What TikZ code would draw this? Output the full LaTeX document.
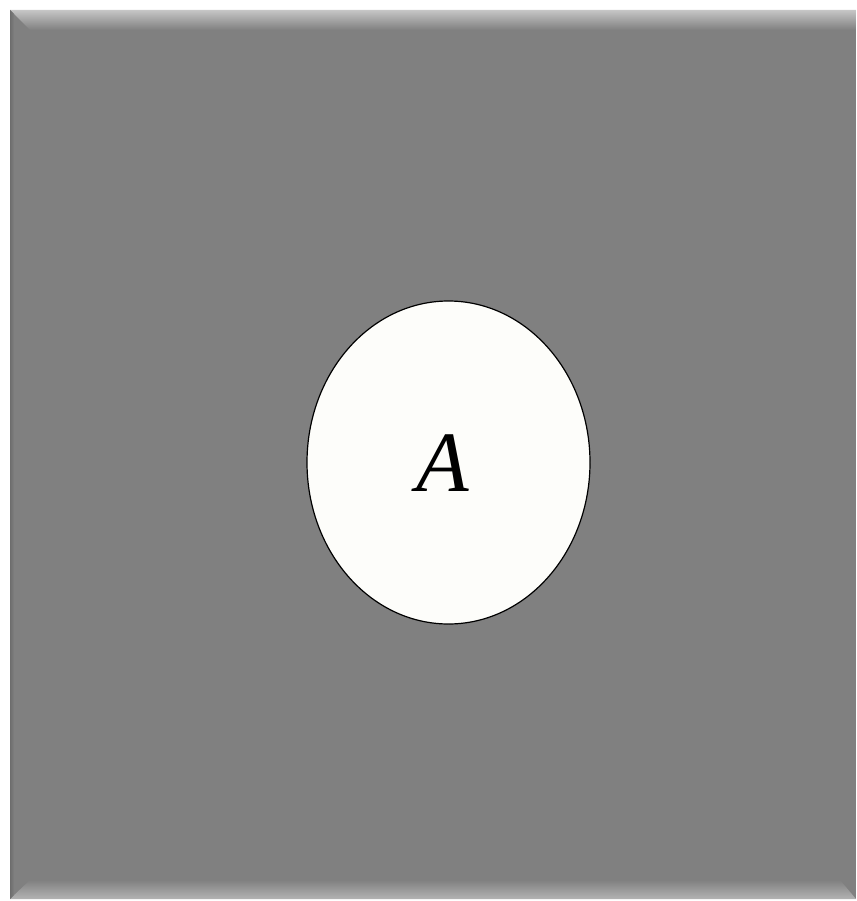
\documentclass[tikz,border=0pt]{standalone}
\usepackage{fontspec}
\setmainfont{Liberation Serif}
\usetikzlibrary{shapes.geometric}
\begin{document}
\begin{tikzpicture}[x=1pt,y=-1pt,
  panel/.style={fill=boxgray,draw=none},
  hole/.style={ellipse,draw=black,line width=1.2pt,fill=holewhite,minimum width=283pt,minimum height=323pt,inner sep=0pt}]
\definecolor{boxgray}{HTML}{808080}
\definecolor{holewhite}{HTML}{FDFDFA}
\useasboundingbox (0,0) rectangle (856,901);
\fill[white] (0,0) rectangle (856,901);
\fill[panel] (10,10) rectangle (856,899);
% top bevel
\shade[top color=boxgray!45!white,bottom color=boxgray] (10,10) -- (856,10) -- (856,30) -- (30,30) -- cycle;
% bottom bevel
\shade[top color=boxgray,bottom color=boxgray!60!white] (30,880) -- (840,880) -- (856,899) -- (10,899) -- cycle;
% left edge
\shade[left color=boxgray!85!black,right color=boxgray] (10,10) -- (14,14) -- (14,895) -- (10,899) -- cycle;
\node[hole] (a) at (448.5,462.5) {};
\node at (443,463) {\fontsize{86}{100}\selectfont\itshape A};
\end{tikzpicture}
\end{document}
